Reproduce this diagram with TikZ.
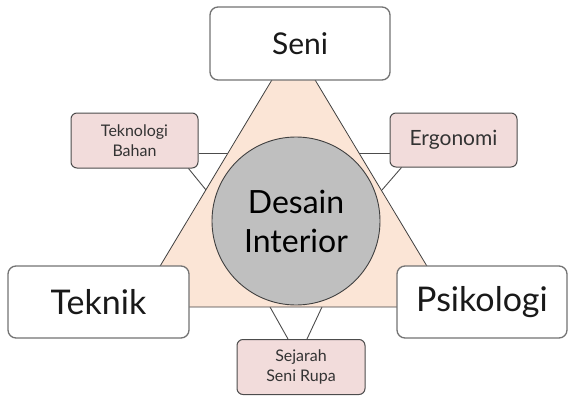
\documentclass[tikz,border=0pt]{standalone}
\usepackage{fontspec}
\setmainfont{Lato}
\definecolor{sidefill}{HTML}{F2DCDB}
\definecolor{trifill}{HTML}{FBE5D6}
\definecolor{hubfill}{HTML}{BFBFBF}
\begin{document}
\begin{tikzpicture}[x=1pt,y=-1pt,
  bigbox/.style={draw=black!55, line width=1.3pt, fill=white, rounded corners=8pt,
    inner sep=0pt, align=center, text=black!90},
  smallbox/.style={draw=black!70, line width=1pt, fill=sidefill, rounded corners=6pt,
    inner sep=0pt, align=center, text=black!80},
  link/.style={draw=black!70, line width=0.9pt},
  tri/.style={draw=black!75, line width=0.8pt, fill=trifill},
  hub/.style={circle, draw=black!75, line width=0.9pt, fill=hubfill, inner sep=0pt, align=center}]
  \useasboundingbox (0,0) rectangle (568,396);

  % triangle corners
  \coordinate (apex) at (293.5,44);
  \coordinate (bl) at (135.5,307);
  \coordinate (br) at (451.5,307);

  % points where the side boxes meet the triangle
  \coordinate (l1) at (228,153);
  \coordinate (l2) at (206,190);
  \coordinate (r1) at (359,153);
  \coordinate (r2) at (382,190);
  \coordinate (b1) at (270,307);
  \coordinate (b2) at (322,307);

  % side boxes
  \node[smallbox, minimum width=127pt, minimum height=55pt,
    font=\fontsize{16}{20}\selectfont] (tb) at (134.5,140.5) {Teknologi\\Bahan};
  \node[smallbox, minimum width=127pt, minimum height=54pt,
    font=\fontsize{21}{24}\selectfont] (er) at (453.5,140) {Ergonomi};
  \node[smallbox, minimum width=128pt, minimum height=55pt,
    font=\fontsize{16}{20}\selectfont] (sr) at (301,367) {Sejarah\\Seni Rupa};

  % connectors between side boxes and triangle
  \draw[link] ([yshift=-12.5pt]tb.east) -- (l1);
  \draw[link] ([xshift=-10pt]tb.south east) -- (l2);
  \draw[link] ([yshift=-13pt]er.west) -- (r1);
  \draw[link] ([xshift=12pt]er.south west) -- (r2);
  \draw[link] (b1) -- ([xshift=-13pt]sr.north);
  \draw[link] (b2) -- ([xshift=6pt]sr.north);

  % central triangle and hub
  \draw[tri] (apex) -- (bl) -- (br) -- cycle;
  \node[hub, minimum size=168pt, font=\fontsize{32}{39}\selectfont] (di) at (296,221) {Desain\\Interior};

  % main boxes
  \node[bigbox, minimum width=180pt, minimum height=73pt,
    font=\fontsize{30}{36}\selectfont] (seni) at (300,43.5) {Seni};
  \node[bigbox, minimum width=181pt, minimum height=72pt,
    font=\fontsize{34}{40}\selectfont] (teknik) at (98.5,302) {Teknik};
  \node[bigbox, minimum width=170pt, minimum height=72pt,
    font=\fontsize{34}{40}\selectfont] (psi) at (482,302) {Psikologi};
\end{tikzpicture}
\end{document}
